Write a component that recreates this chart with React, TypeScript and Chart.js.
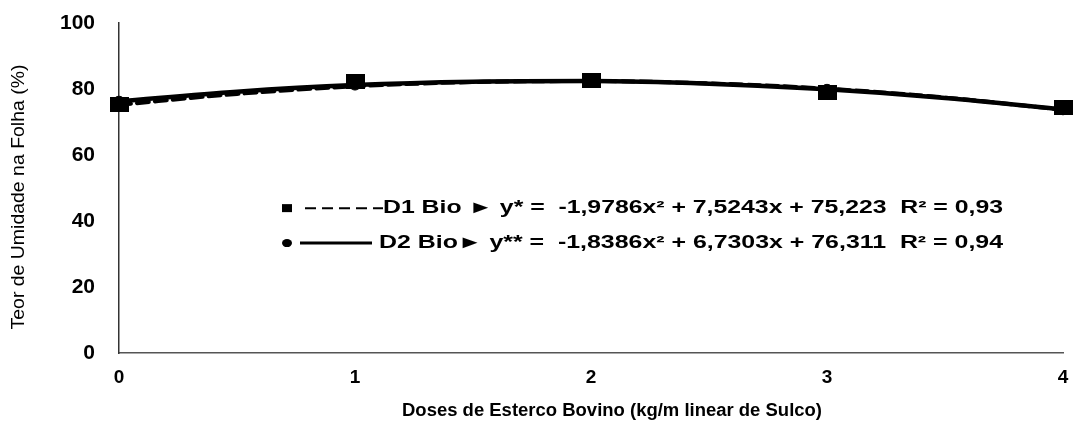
import React, { useEffect, useRef } from "react";
import { Chart, registerables } from "chart.js";
Chart.register(...registerables);

const doses = [0, 1, 2, 3, 4];
const d1Observed = [75.2, 82.3, 82.7, 78.8, 74.4];
const d2Observed = [76.0, 81.5, 82.4, 79.6, 74.0];
const trendX = [0, 0.5, 1, 1.5, 2, 2.5, 3, 3.5, 4];
const d1Trend = [75.2, 78.5, 80.8, 82.1, 82.4, 81.7, 80.1, 77.4, 73.7];
const d2Trend = [76.3, 79.2, 81.2, 82.2, 82.4, 81.6, 79.9, 77.3, 73.8];
const yTicks = [0, 20, 40, 60, 80, 100];
const xTicks = [0, 1, 2, 3, 4];
const legendRows = [
  { marker: "square", dash: true, label: "D1 Bio \u25BA y* =  -1,9786x\u00B2 + 7,5243x + 75,223  R\u00B2 = 0,93" },
  { marker: "circle", dash: false, label: "D2 Bio\u25BA y** =  -1,8386x\u00B2 + 6,7303x + 76,311  R\u00B2 = 0,94" },
];
const xTitle = "Doses de Esterco Bovino (kg/m linear de Sulco)";
const yTitle = "Teor de Umidade na Folha (%)";

const FONT = "'Liberation Sans', Arial, sans-serif";

function fitText(ctx: CanvasRenderingContext2D, text: string, x: number, y: number, width: number, align: "left" | "center") {
  const w = ctx.measureText(text).width;
  const sx = width / w;
  ctx.save();
  ctx.translate(align === "center" ? x - width / 2 : x, y);
  ctx.scale(sx, 1);
  ctx.textAlign = "left";
  ctx.fillText(text, 0, 0);
  ctx.restore();
}

export default function App() {
  const ref = useRef<HTMLCanvasElement | null>(null);
  useEffect(() => {
    if (!ref.current) return;
    const sq = document.createElement("canvas");
    sq.width = 19;
    sq.height = 15;
    const sctx = sq.getContext("2d")!;
    sctx.fillStyle = "#000";
    sctx.fillRect(0, 0, 19, 15);

    const overlay = {
      id: "overlay",
      afterDraw(chart: any) {
        const ctx = chart.ctx;
        const ys = chart.scales.y;
        ctx.save();
        ctx.fillStyle = "#000";
        // legend
        const rowsY = [43.9, 33.3];
        const rowWidths = [620, 624];
        legendRows.forEach((r, i) => {
          const py = ys.getPixelForValue(rowsY[i]);
          const mx = 287;
          if (r.marker === "square") {
            ctx.fillRect(mx - 5, py - 4, 10, 8);
          } else {
            ctx.beginPath();
            ctx.ellipse(mx, py, 5, 4, 0, 0, Math.PI * 2);
            ctx.fill();
          }
          ctx.strokeStyle = "#000";
          ctx.lineWidth = r.dash ? 2 : 3;
          ctx.setLineDash(r.dash ? [11, 6] : []);
          ctx.beginPath();
          ctx.moveTo(r.dash ? 305 : 300, py);
          ctx.lineTo(r.dash ? 383 : 372, py);
          ctx.stroke();
          ctx.setLineDash([]);
          ctx.font = `bold 18px ${FONT}`;
          ctx.textBaseline = "middle";
          fitText(ctx, r.label, r.dash ? 383 : 379, py, rowWidths[i], "left");
        });
        // x title
        ctx.font = `bold 18px ${FONT}`;
        ctx.textBaseline = "middle";
        fitText(ctx, xTitle, 612, 411, 420, "center");
        // y title
        ctx.save();
        ctx.translate(19, 197);
        ctx.rotate(-Math.PI / 2);
        ctx.font = `18px ${FONT}`;
        ctx.textBaseline = "middle";
        fitText(ctx, yTitle, 0, 0, 265, "center");
        ctx.restore();
        ctx.restore();
      },
    };

    const chart = new Chart(ref.current, {
      type: "scatter",
      data: {
        datasets: [
          {
            label: "D1 trend",
            data: trendX.map((x, i) => ({ x, y: d1Trend[i] })),
            showLine: true,
            borderColor: "#000",
            borderWidth: 4,
            borderDash: [12, 6],
            pointRadius: 0,
            cubicInterpolationMode: "monotone",
            fill: false,
            clip: false,
          },
          {
            label: "D2 trend",
            data: trendX.map((x, i) => ({ x, y: d2Trend[i] })),
            showLine: true,
            borderColor: "#000",
            borderWidth: 4.5,
            pointRadius: 0,
            cubicInterpolationMode: "monotone",
            fill: false,
            clip: false,
          },
          {
            label: "D2 Bio",
            data: doses.map((x, i) => ({ x, y: d2Observed[i] })),
            pointStyle: "circle",
            pointRadius: 6,
            backgroundColor: "#000",
            borderColor: "#000",
            clip: false,
          },
          {
            label: "D1 Bio",
            data: doses.map((x, i) => ({ x, y: d1Observed[i] })),
            pointStyle: sq as any,
            pointRadius: 9,
            backgroundColor: "#000",
            borderColor: "#000",
            clip: false,
          },
        ],
      },
      options: {
        animation: false,
        responsive: false,
        maintainAspectRatio: false,
        layout: { padding: { top: 23, right: 13, left: 0, bottom: 0 } },
        plugins: { legend: { display: false }, tooltip: { enabled: false } },
        elements: { line: { borderCapStyle: "round" } },
        scales: {
          x: {
            type: "linear",
            min: 0,
            max: 4,
            afterFit: (s: any) => { s.height = 75; s.paddingLeft = 0; s.paddingRight = 0; },
            afterBuildTicks: (s: any) => { s.ticks = xTicks.map((v) => ({ value: v })); },
            grid: { display: false, drawTicks: true, tickLength: 6, color: "#555" },
            border: { display: true, color: "#555", width: 1.5 },
            ticks: {
              color: "#000",
              font: { family: FONT, size: 19, weight: "bold" },
              padding: 7,
              maxRotation: 0,
            },
          },
          y: {
            min: 0,
            max: 100,
            afterFit: (s: any) => { s.width = 119; s.paddingTop = 0; s.paddingBottom = 0; },
            afterBuildTicks: (s: any) => { s.ticks = yTicks.map((v) => ({ value: v })); },
            grid: { display: false, drawTicks: true, tickLength: 6, color: "#555" },
            border: { display: true, color: "#333", width: 1.5 },
            ticks: {
              color: "#000",
              font: { family: FONT, size: 21, weight: "bold" },
              padding: 18,
            },
          },
        },
      },
      plugins: [overlay],
    } as any);
    return () => chart.destroy();
  }, []);
  return (
    <div style={{ position: "absolute", left: 0, top: 0, width: 1076, height: 428, background: "#fff" }}>
      <canvas ref={ref} width={1076} height={428} style={{ display: "block" }} />
    </div>
  );
}
